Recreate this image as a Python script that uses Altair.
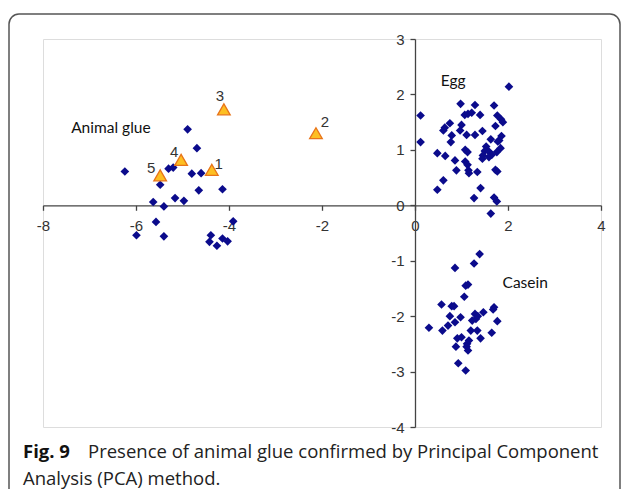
import altair as alt
import pandas as pd

# ---- data ----
glue_x = [-6.24, -4.89, -4.69, -5.30, -5.20, -4.80, -4.60, -5.48, -4.65, -4.14, -5.63, -5.40,
          -5.16, -4.97, -5.57, -5.99, -5.40, -3.91, -4.39, -4.42, -4.26, -4.14, -4.03]
glue_y = [0.61, 1.37, 1.03, 0.66, 0.68, 0.57, 0.58, 0.37, 0.27, 0.29, 0.06, -0.02,
          0.13, 0.08, -0.30, -0.54, -0.56, -0.29, -0.54, -0.66, -0.73, -0.60, -0.65]

egg_x = [0.12, 0.12, 2.02, 0.98, 1.29, 1.70, 1.07, 1.14, 1.22, 1.40, 1.77, 1.85, 1.89, 0.75,
         0.64, 0.61, 1.00, 0.97, 1.73, 1.45, 1.11, 1.29, 0.79, 1.86, 1.81, 0.77, 1.63, 1.78,
         1.08, 1.13, 1.53, 1.50, 1.59, 1.84, 1.76, 0.48, 0.65, 1.46, 1.65, 0.86, 1.08, 1.45,
         1.59, 1.13, 0.89, 1.15, 1.34, 1.16, 1.73, 1.77, 0.61, 0.48, 1.41, 1.27, 1.70, 1.76, 1.63]
egg_y = [1.62, 1.14, 2.14, 1.83, 1.81, 1.80, 1.63, 1.65, 1.67, 1.63, 1.62, 1.55, 1.50, 1.48,
         1.40, 1.35, 1.45, 1.35, 1.43, 1.34, 1.27, 1.27, 1.26, 1.25, 1.17, 1.14, 1.19, 1.15,
         1.00, 0.96, 1.06, 0.98, 0.97, 1.03, 0.96, 0.94, 0.89, 0.90, 0.91, 0.81, 0.79, 0.84,
         0.87, 0.73, 0.63, 0.63, 0.60, 0.58, 0.64, 0.61, 0.45, 0.28, 0.31, 0.13, 0.14, 0.07, -0.15]

casein_x = [1.39, 1.27, 0.86, 1.14, 1.09, 1.06, 0.57, 0.79, 0.84, 1.70, 1.68, 1.47, 1.29, 1.35,
            0.75, 0.98, 1.31, 1.23, 1.77, 0.86, 0.71, 0.30, 0.59, 1.20, 1.34, 1.65, 1.00, 0.91,
            1.41, 1.16, 1.12, 0.88, 1.11, 1.14, 0.93, 1.09]
casein_y = [-0.88, -1.05, -1.13, -1.43, -1.45, -1.65, -1.79, -1.82, -1.82, -1.84, -1.88, -1.93,
            -1.96, -2.00, -2.00, -2.02, -2.05, -2.08, -2.09, -2.11, -2.17, -2.21, -2.26, -2.26,
            -2.26, -2.30, -2.38, -2.40, -2.40, -2.44, -2.50, -2.55, -2.55, -2.62, -2.85, -2.98]

sample_labels = ["1", "2", "3", "4", "5"]
sample_x = [-4.37, -2.13, -4.11, -5.03, -5.48]
sample_y = [0.64, 1.30, 1.73, 0.82, 0.54]

group_names = ["Animal glue", "Egg", "Casein"]
group_label_x = [-6.54, 0.82, 2.37]
group_label_y = [1.39, 2.25, -1.41]

x_ticks = [-8, -6, -4, -2, 0, 2, 4]
y_ticks = [-4, -3, -2, -1, 0, 1, 2, 3]
x_domain = [-8, 4]
y_domain = [-4, 3]

caption_bold = "Fig. 9"
caption_line1 = "Presence of animal glue confirmed by Principal Component"
caption_line2 = "Analysis (PCA) method."

# ---- layout / style ----
W, H = 558, 388
PAD = {"left": 35, "top": 31, "right": 20, "bottom": 62}
AXIS_COLOR = "#444444"
NAVY = "#0b0b8c"
TICK_FONT = "Liberation Sans"

points = pd.DataFrame({
    "x": glue_x + egg_x + casein_x,
    "y": glue_y + egg_y + casein_y,
})
samples = pd.DataFrame({"x": sample_x, "y": sample_y, "label": sample_labels})
groups = pd.DataFrame({"x": group_label_x, "y": group_label_y, "label": group_names})

zero_y_px = H * y_domain[1] / (y_domain[1] - y_domain[0])
zero_x_px = W * (0 - x_domain[0]) / (x_domain[1] - x_domain[0])

common_axis = dict(
    grid=False, domainColor=AXIS_COLOR, domainWidth=1.3, tickColor=AXIS_COLOR, tickWidth=1.3,
    tickSize=5, labelFontSize=15, labelFont=TICK_FONT, labelColor="#333333",
    labelFlush=False, labelOverlap=False, title=None, labelExpr="'' + datum.value",
)
x_axis = alt.Axis(values=x_ticks, orient="bottom", offset=-(H - zero_y_px), labelPadding=8,
                  **common_axis)
y_axis = alt.Axis(values=y_ticks, orient="left", offset=-zero_x_px, labelPadding=6,
                  **common_axis)
X = alt.X("x:Q", scale=alt.Scale(domain=x_domain, nice=False, zero=False), axis=x_axis)
Y = alt.Y("y:Q", scale=alt.Scale(domain=y_domain, nice=False, zero=False), axis=y_axis)

one = pd.DataFrame({"a": [0]})

total_w = PAD["left"] + W + PAD["right"]
border = alt.Chart(one).mark_rect(
    fillOpacity=0, stroke="#555555", strokeWidth=1.5, cornerRadius=10
).encode(x=alt.value(-PAD["left"] + 1), x2=alt.value(total_w - PAD["left"] - 1),
         y=alt.value(-25), y2=alt.value(520))

pts = alt.Chart(points).mark_point(
    shape="diamond", filled=True, size=75, color=NAVY, opacity=1
).encode(x=X, y=Y)

tri = alt.Chart(samples).mark_point(
    shape="triangle-up", filled=True, size=160, fill="#fdbf22", stroke="#e8741a",
    strokeWidth=1.3, opacity=1
).encode(x=X, y=Y)

label_offsets = {"1": (7, -6), "2": (9, -11), "3": (-4, -13), "4": (-7, -8), "5": (-9, -7)}
tri_labels = []
for lab, (dx, dy) in label_offsets.items():
    tri_labels.append(
        alt.Chart(samples).transform_filter(alt.datum.label == lab).mark_text(
            font=TICK_FONT, fontSize=15, color="#333333", dx=dx, dy=dy
        ).encode(x=X, y=Y, text="label:N")
    )

group_text = alt.Chart(groups).mark_text(
    font="Lato", fontSize=15.5, color="#111111", align="center", baseline="middle"
).encode(x=X, y=Y, text="label:N")

CAP_SIZE = 18.5
cap_bold = alt.Chart(one).mark_text(
    text=caption_bold, font="Open Sans", fontWeight="bold", fontSize=CAP_SIZE, color="#111111",
    align="left", baseline="middle"
).encode(x=alt.value(-20), y=alt.value(413))
cap1 = alt.Chart(one).mark_text(
    text=caption_line1, font="Open Sans", fontSize=CAP_SIZE, color="#222222",
    align="left", baseline="middle"
).encode(x=alt.value(45), y=alt.value(413))
cap2 = alt.Chart(one).mark_text(
    text=caption_line2, font="Open Sans", fontSize=CAP_SIZE, color="#222222",
    align="left", baseline="middle"
).encode(x=alt.value(-20), y=alt.value(440))

chart = alt.layer(
    border, pts, tri, *tri_labels, group_text, cap_bold, cap1, cap2
).properties(
    width=W, height=H,
    autosize=alt.AutoSizeParams(type="none"),
    padding=PAD,
).configure_view(stroke=None).configure(background="white")

chart.save("out.html", embed_options={"renderer": "svg", "actions": False})
